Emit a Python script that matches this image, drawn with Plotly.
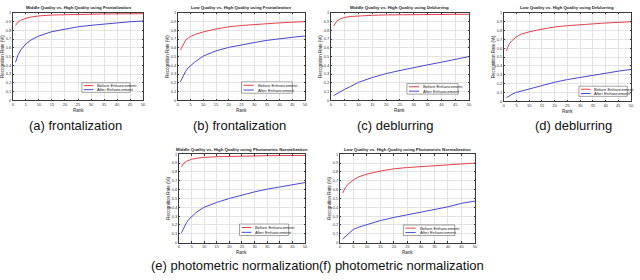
import plotly.graph_objects as go

W, H = 640, 280

ranks = [1, 2, 3, 4, 5, 7, 10, 15, 20, 25, 30, 35, 40, 45, 50]

titles = [
    "Middle Quality vs. High Quality using Frontalization",
    "Low Quality vs. High Quality using Frontalization",
    "Middle Quality vs. High Quality using Deblurring",
    "Low Quality vs. High Quality using Deblurring",
    "Middle Quality vs. High Quality using Photometric Normalization",
    "Low Quality vs. High Quality using Photometric Normalization",
]
captions = ["(a) frontalization", "(b) frontalization", "(c) deblurring",
            "(d) deblurring", "(e) photometric normalization",
            "(f) photometric normalization"]
series_names = ["Before Enhancement", "After Enhancement"]

before_a = [0.855, 0.895, 0.915, 0.928, 0.938, 0.952, 0.965, 0.975, 0.980, 0.983, 0.985, 0.987, 0.988, 0.989, 0.990]
after_a = [0.435, 0.52, 0.575, 0.615, 0.645, 0.69, 0.735, 0.785, 0.815, 0.84, 0.857, 0.872, 0.887, 0.898, 0.907]
before_b = [0.575, 0.64, 0.685, 0.71, 0.73, 0.755, 0.782, 0.815, 0.84, 0.855, 0.867, 0.877, 0.885, 0.893, 0.899]
after_b = [0.21, 0.28, 0.33, 0.37, 0.395, 0.445, 0.505, 0.565, 0.605, 0.635, 0.66, 0.685, 0.705, 0.72, 0.735]
before_c = [0.85, 0.9, 0.925, 0.94, 0.948, 0.958, 0.965, 0.972, 0.976, 0.978, 0.98, 0.981, 0.982, 0.983, 0.984]
after_c = [0.055, 0.075, 0.095, 0.11, 0.125, 0.155, 0.205, 0.26, 0.305, 0.34, 0.375, 0.405, 0.435, 0.465, 0.5]
before_d = [0.57, 0.64, 0.68, 0.71, 0.73, 0.76, 0.785, 0.815, 0.84, 0.855, 0.867, 0.877, 0.885, 0.892, 0.898]
after_d = [0.04, 0.06, 0.075, 0.09, 0.1, 0.115, 0.14, 0.18, 0.215, 0.245, 0.27, 0.295, 0.32, 0.34, 0.36]
before_e = [0.86, 0.9, 0.92, 0.933, 0.943, 0.955, 0.965, 0.972, 0.977, 0.98, 0.982, 0.984, 0.985, 0.986, 0.987]
after_e = [0.11, 0.175, 0.225, 0.265, 0.295, 0.345, 0.4, 0.455, 0.5, 0.54, 0.575, 0.605, 0.63, 0.655, 0.68]
before_f = [0.56, 0.62, 0.66, 0.69, 0.71, 0.745, 0.775, 0.81, 0.835, 0.85, 0.862, 0.872, 0.882, 0.89, 0.9]
after_f = [0.04, 0.07, 0.1, 0.13, 0.15, 0.175, 0.205, 0.25, 0.285, 0.315, 0.345, 0.375, 0.405, 0.445, 0.47]

before = [before_a, before_b, before_c, before_d, before_e, before_f]
after = [after_a, after_b, after_c, after_d, after_e, after_f]

# layout (pixel boxes of plot areas: x0, x1, y0(top), y1(bottom))
boxes = [(12, 143, 10, 99), (178, 306, 10, 99), (332, 471, 10, 99),
         (506, 634, 10, 100), (179, 306, 154, 244), (341, 477, 154, 244)]
# legend boxes in axis-domain fractions: x0, x1, y0, y1
leg = [(0.53, 0.90, 0.09, 0.20), (0.50, 0.90, 0.08, 0.21), (0.55, 0.92, 0.07, 0.19),
       (0.59, 0.97, 0.055, 0.17), (0.48, 0.87, 0.08, 0.21), (0.47, 0.85, 0.08, 0.20)]
cap_pos = [(75, 125), (240, 125), (397, 125), (576, 125), (235, 267), (403, 267)]

RED = "#e5404a"
BLUE = "#4848d4"
FONT = "Liberation Sans, Arial, sans-serif"

fig = go.Figure()
layout = dict(width=W, height=H, margin=dict(l=0, r=0, t=0, b=0),
              paper_bgcolor="white", plot_bgcolor="white", showlegend=False,
              font=dict(family=FONT, color="#262626"))
annotations = []
shapes = []

for i in range(6):
    k = "" if i == 0 else str(i + 1)
    x0, x1, y0, y1 = boxes[i]
    xa = dict(domain=[x0 / W, x1 / W], range=[0, 50], dtick=5, tick0=0,
              showgrid=True, gridcolor="#e3e3e3", gridwidth=0.6,
              showline=True, linecolor="#3a3a3a", linewidth=0.6, mirror="ticks",
              ticks="inside", ticklen=1.5, tickwidth=0.5, tickcolor="#3a3a3a",
              tickfont=dict(size=4, family=FONT, color="#333"), zeroline=False,
              anchor="y" + k, fixedrange=True)
    ya = dict(domain=[1 - y1 / H, 1 - y0 / H], range=[0, 1], dtick=0.1, tick0=0,
              showgrid=True, gridcolor="#e3e3e3", gridwidth=0.6,
              showline=True, linecolor="#3a3a3a", linewidth=0.6, mirror="ticks",
              ticks="inside", ticklen=1.5, tickwidth=0.5, tickcolor="#3a3a3a",
              tickfont=dict(size=4, family=FONT, color="#333"), zeroline=False,
              anchor="x" + k, fixedrange=True)
    layout["xaxis" + k] = xa
    layout["yaxis" + k] = ya
    fig.add_trace(go.Scatter(x=ranks, y=before[i], mode="lines", name=series_names[0],
                             line=dict(color=RED, width=1), xaxis="x" + k, yaxis="y" + k))
    fig.add_trace(go.Scatter(x=ranks, y=after[i], mode="lines", name=series_names[1],
                             line=dict(color=BLUE, width=1), xaxis="x" + k, yaxis="y" + k))
    xd, yd = "x" + k + " domain", "y" + k + " domain"
    # title
    annotations.append(dict(text="<b>" + titles[i] + "</b>", xref=xd, yref=yd, x=0.5, y=1,
                            xanchor="center", yanchor="bottom", yshift=0.5, showarrow=False,
                            font=dict(size=4.3, family=FONT, color="#222")))
    # x label
    annotations.append(dict(text="Rank", xref=xd, yref=yd, x=0.5, y=0,
                            xanchor="center", yanchor="top", yshift=-5.5, showarrow=False,
                            font=dict(size=4.5, family=FONT, color="#222")))
    # y label
    annotations.append(dict(text="Recognition Rate (%)", xref=xd, yref=yd, x=0, y=0.5,
                            xanchor="right", yanchor="middle", xshift=-6, textangle=-90,
                            showarrow=False, font=dict(size=4.5, family=FONT, color="#222")))
    # legend box
    lx0, lx1, ly0, ly1 = leg[i]
    shapes.append(dict(type="rect", xref=xd, yref=yd, x0=lx0, x1=lx1, y0=ly0, y1=ly1,
                       line=dict(color="#444", width=0.5), fillcolor="white", layer="above"))
    for j, (nm, col) in enumerate(zip(series_names, [RED, BLUE])):
        yy = ly1 - (ly1 - ly0) * (0.3 + 0.42 * j)
        wx = lx1 - lx0
        shapes.append(dict(type="line", xref=xd, yref=yd, x0=lx0 + 0.04 * wx, x1=lx0 + 0.24 * wx,
                           y0=yy, y1=yy, line=dict(color=col, width=1), layer="above"))
        annotations.append(dict(text=nm, xref=xd, yref=yd, x=lx0 + 0.28 * wx, y=yy,
                                xanchor="left", yanchor="middle", showarrow=False,
                                font=dict(size=4.2, family=FONT, color="#222")))
    # caption
    cx, cy = cap_pos[i]
    annotations.append(dict(text=captions[i], xref="paper", yref="paper", x=cx / W, y=1 - cy / H,
                            xanchor="center", yanchor="middle", showarrow=False,
                            font=dict(size=13, family=FONT, color="#111")))

layout["annotations"] = annotations
layout["shapes"] = shapes
fig.update_layout(**layout)
fig.write_html("out.html", config={"displayModeBar": False},
               post_script="document.body.style.margin='0';document.body.style.padding='0';")
